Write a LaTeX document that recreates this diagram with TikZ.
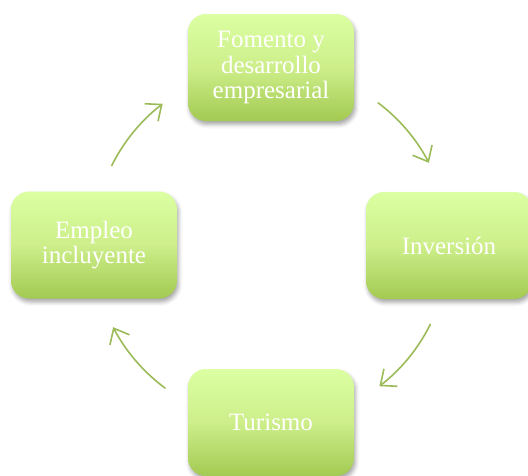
\documentclass[tikz,border=0pt]{standalone}
\usepackage{fontspec}
\setmainfont{Liberation Serif}
\usetikzlibrary{arrows.meta,shadows.blur}
\definecolor{gtop}{HTML}{DBFFA2}
\definecolor{gmid}{HTML}{CDEE8A}
\definecolor{gbot}{HTML}{A3CA52}
\definecolor{arr}{HTML}{9BBB59}
\begin{document}
\begin{tikzpicture}[x=1pt,y=1pt,
  box/.style={rounded corners=18pt, minimum width=166pt, minimum height=107pt,
    top color=gtop, bottom color=gbot, middle color=gmid,
    text=white, align=center, inner sep=0pt,
    font=\fontsize{25}{25.5}\selectfont,
    blur shadow={shadow xshift=1.5pt, shadow yshift=-3.5pt, shadow blur radius=4pt, shadow opacity=35}},
  cyc/.style={draw=arr, line width=1.6pt, line cap=round,
    -{Straight Barb[length=13pt,width=22pt,line width=1.6pt]}}]
\useasboundingbox (0,0) rectangle (528,-475);
\clip (0,0) rectangle (528,-475);
\coordinate (c) at (271,-245);
\node[box] (fom) at (271,-67.5) {Fomento y\\desarrollo\\empresarial};
\node[box] (inv) at (449,-245.5) {Inversión};
\node[box] (tur) at (271,-422.5) {Turismo};
\node[box] (emp) at (94,-245) {Empleo\\incluyente};
\draw[cyc] ([shift={(53:178)}]c) arc[start angle=53, end angle=27.5, radius=178];
\draw[cyc] ([shift={(-26.5:178)}]c) arc[start angle=-26.5, end angle=-52.5, radius=178];
\draw[cyc] ([shift={(-126.5:178)}]c) arc[start angle=-126.5, end angle=-152.5, radius=178];
\draw[cyc] ([shift={(153.5:178)}]c) arc[start angle=153.5, end angle=127.5, radius=178];
\end{tikzpicture}
\end{document}
